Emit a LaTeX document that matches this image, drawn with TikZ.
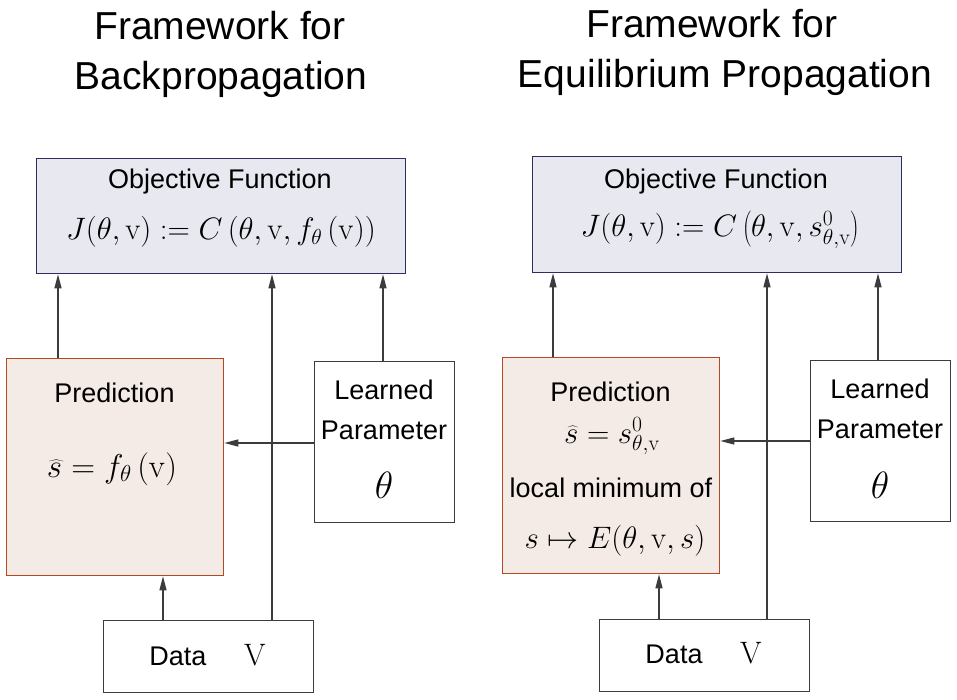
\RequirePackage{fix-cm}
\documentclass[tikz,border=0pt]{standalone}
\usepackage[no-math]{fontspec}
\setmainfont{Liberation Sans}
\usetikzlibrary{arrows.meta}
\definecolor{objfill}{RGB}{232,232,240}
\definecolor{objline}{RGB}{45,45,95}
\definecolor{predfill}{RGB}{245,235,230}
\definecolor{predline}{RGB}{180,72,30}
\definecolor{lnc}{RGB}{60,60,60}
\begin{document}
\begin{tikzpicture}[x=1pt,y=-1pt,
  box/.style={draw, line width=1.3pt, inner sep=0pt, anchor=north west},
  objbox/.style={box, draw=objline, fill=objfill},
  predbox/.style={box, draw=predline, fill=predfill},
  plainbox/.style={box, draw=lnc, fill=white},
  title/.style={font=\fontsize{39}{44}\selectfont, inner sep=0pt, anchor=base},
  txt/.style={font=\fontsize{27}{32}\selectfont, inner sep=0pt, anchor=base},
  mtxt/.style={font=\fontsize{31}{36}\selectfont, inner sep=0pt, anchor=base},
  bigth/.style={font=\fontsize{38}{44}\selectfont, inner sep=0pt, anchor=base},
  conn/.style={draw=lnc, line width=1.2pt},
  arr/.style={conn, -{Triangle[length=14pt,width=7pt]}}
]
\useasboundingbox (0,0) rectangle (957,700);

% ---------------- Left panel ----------------
\node[title] (t1a) at (220,40) {Framework for};
\node[title] (t1b) at (221,90) {Backpropagation};

\node[objbox, minimum width=369pt, minimum height=115pt] (obj1) at (36,158) {};
\node[txt] (obj1t) at (220,189) {Objective Function};
\node[mtxt] (obj1f) at (221,240) {$J(\theta,\mathrm{v}) := C\left(\theta,\mathrm{v},f_{\theta}\left(\mathrm{v}\right)\right)$};

\node[predbox, minimum width=217pt, minimum height=217pt] (pred1) at (6,358) {};
\node[txt] (pred1t) at (114.5,402) {Prediction};
\node[mtxt, font=\fontsize{33}{38}\selectfont] (pred1f) at (112,477) {$\widehat{s} = f_{\theta}\left(\mathrm{v}\right)$};

\node[plainbox, minimum width=140pt, minimum height=161pt] (lp1) at (314,361) {};
\node[txt] (lp1a) at (384,399) {Learned};
\node[txt] (lp1b) at (384,439) {Parameter};
\node[bigth] (lp1c) at (384,498) {$\theta$};

\node[plainbox, minimum width=210pt, minimum height=72pt] (data1) at (103,620) {};
\node[txt] (data1a) at (178,665) {Data};
\node[mtxt] (data1b) at (255,665) {$\mathrm{V}$};

\coordinate (p1top) at (58,358);
\coordinate (d1mid) at (272,620);
\coordinate (l1top) at (383,361);
\coordinate (d1left) at (163,620);
\draw[arr] (p1top) -- (p1top |- obj1.south);
\draw[arr] (d1mid) -- (d1mid |- obj1.south);
\draw[arr] (l1top) -- (l1top |- obj1.south);
\draw[arr] (d1left) -- (d1left |- pred1.south);
\draw[arr] (lp1.west |- 0,443) -- (pred1.east |- 0,443);

% ---------------- Right panel ----------------
\node[title] (t2a) at (712,38) {Framework for};
\node[title] (t2b) at (725,88) {Equilibrium Propagation};

\node[objbox, minimum width=369pt, minimum height=116pt] (obj2) at (532,156) {};
\node[txt] (obj2t) at (716,189) {Objective Function};
\node[mtxt] (obj2f) at (720,237) {$J(\theta,\mathrm{v}) := C\left(\theta,\mathrm{v},s^{0}_{\theta,\mathrm{v}}\right)$};

\node[predbox, minimum width=217pt, minimum height=216pt] (pred2) at (502,357) {};
\node[txt] (pred2t) at (610.5,401) {Prediction};
\node[mtxt] (pred2f) at (612,443) {$\widehat{s} = s^{0}_{\theta,\mathrm{v}}$};
\node[txt] (pred2g) at (611,497) {local minimum of};
\node[mtxt] (pred2h) at (615,548) {$s \mapsto E(\theta,\mathrm{v},s)$};

\node[plainbox, minimum width=140pt, minimum height=161pt] (lp2) at (810,360) {};
\node[txt] (lp2a) at (880,398) {Learned};
\node[txt] (lp2b) at (880,438) {Parameter};
\node[bigth] (lp2c) at (880,498) {$\theta$};

\node[plainbox, minimum width=210pt, minimum height=72pt] (data2) at (599,619) {};
\node[txt] (data2a) at (674,663) {Data};
\node[mtxt] (data2b) at (751,663) {$\mathrm{V}$};

\coordinate (p2top) at (553,357);
\coordinate (d2mid) at (767,619);
\coordinate (l2top) at (878,360);
\coordinate (d2left) at (659,619);
\draw[arr] (p2top) -- (p2top |- obj2.south);
\draw[arr] (d2mid) -- (d2mid |- obj2.south);
\draw[arr] (l2top) -- (l2top |- obj2.south);
\draw[arr] (d2left) -- (d2left |- pred2.south);
\draw[arr] (lp2.west |- 0,441) -- (pred2.east |- 0,441);
\end{tikzpicture}
\end{document}
